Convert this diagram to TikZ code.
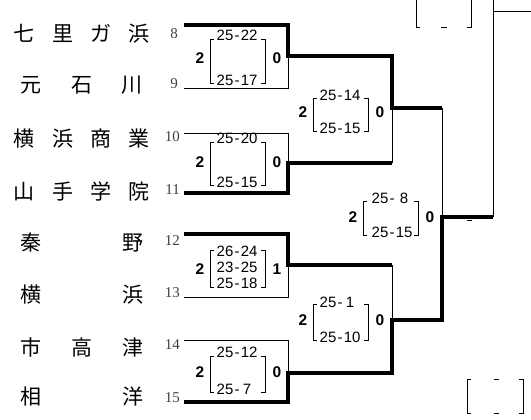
\documentclass[tikz,border=0pt]{standalone}
\usepackage{fontspec}
\setmainfont{Liberation Serif}
\newfontfamily\jpfont{Noto Sans CJK JP}
\newfontfamily\scorefont{Liberation Sans}
\newcommand\spr[2]{\makebox[#1][s]{#2}}
\newcommand\brk[4]{%
  \draw[brkln] (#1+4,#3) -- (#1,#3) -- (#1,#4) -- (#1+4,#4);
  \draw[brkln] (#2-4,#3) -- (#2,#3) -- (#2,#4) -- (#2-4,#4);}
\newcommand\sd[2]{#1\kern1.2pt-\kern1.2pt#2}
\begin{document}
\begin{tikzpicture}[x=1pt,y=-1pt,
  thinln/.style={line width=0.9pt},
  thickln/.style={line width=4pt, line join=miter},
  brkln/.style={line width=0.9pt},
  namelbl/.style={inner sep=0pt, anchor=west, font=\jpfont\fontsize{21}{21}\selectfont},
  numlbl/.style={inner sep=0pt, anchor=east, text=black!75, font=\fontsize{15}{15}\selectfont},
  scoretxt/.style={inner sep=0pt, anchor=west, font=\scorefont\fontsize{15}{15}\selectfont},
  setlbl/.style={inner sep=0pt, font=\scorefont\bfseries\fontsize{15.5}{15.5}\selectfont},
]
\useasboundingbox (0,0) rectangle (531,420);

% names
\node[namelbl] (n8) at (13.5,33.5) {\spr{136pt}{七\hfill 里\hfill ガ\hfill 浜}};
\node[namelbl] (n9) at (20.5,85) {\spr{122pt}{元\hfill 石\hfill 川}};
\node[namelbl] (n10) at (13.5,139) {\spr{136pt}{横\hfill 浜\hfill 商\hfill 業}};
\node[namelbl] (n11) at (13.5,191) {\spr{136pt}{山\hfill 手\hfill 学\hfill 院}};
\node[namelbl] (n12) at (20.5,243) {\spr{123pt}{秦\hfill 野}};
\node[namelbl] (n13) at (20.5,295) {\spr{123pt}{横\hfill 浜}};
\node[namelbl] (n14) at (20.5,347) {\spr{123pt}{市\hfill 高\hfill 津}};
\node[namelbl] (n15) at (20.5,397) {\spr{123pt}{相\hfill 洋}};

% seed numbers
\node[numlbl] (k8) at (178,34) {8};
\node[numlbl] (k9) at (178,84) {9};
\node[numlbl] (k10) at (180,137) {10};
\node[numlbl] (k11) at (180,190) {11};
\node[numlbl] (k12) at (180,241) {12};
\node[numlbl] (k13) at (180,293) {13};
\node[numlbl] (k14) at (180,345) {14};
\node[numlbl] (k15) at (180,398) {15};

% bracket coordinates
\coordinate (p8) at (184,25);
\coordinate (p9) at (184,88);
\coordinate (p10) at (184,133);
\coordinate (p11) at (184,193);
\coordinate (p12) at (184,234);
\coordinate (p13) at (184,297);
\coordinate (p14) at (184,340);
\coordinate (p15) at (184,402);
\coordinate (m1) at (288,56);
\coordinate (m2) at (288,163);
\coordinate (m3) at (288,265);
\coordinate (m4) at (288,373);
\coordinate (q1) at (392,108);
\coordinate (q2) at (392,320);
\coordinate (sf) at (442,217);
\coordinate (fin) at (493,217);
\coordinate (ftop) at (493,-2);
\coordinate (fj) at (493,11);
\coordinate (fout) at (532,11);

% thin lines
\draw[thinln] (p9) -| (m1);
\draw[thinln] (p10) -| (m2);
\draw[thinln] (m2 -| q1) -- (q1);
\draw[thinln] (p13) -| (m3);
\draw[thinln] (m3 -| q2) -- (q2);
\draw[thinln] (p14) -| (m4);
\draw[thinln] (q1 -| sf) -- (sf);
\draw[thinln] (fin) -- (ftop);
\draw[thinln] (fj) -- (fout);

% thick lines
\draw[thickln] (p8) -| (m1) -- (m1 -| q1) -- (q1) -- (q1 -| sf);
\draw[thickln] (p11) -| (m2) -- (m2 -| q1);
\draw[thickln] (p12) -| (m3) -- (m3 -| q2);
\draw[thickln] (p15) -| (m4) -- (m4 -| q2) -- (q2) -- (q2 -| sf) -- (sf) -- (fin);

% match 1
\node[setlbl] (a1) at (200,58) {2};
\node[setlbl] (b1) at (277,58) {0};
\node[scoretxt] (t1a) at (216.5,35) {\sd{25}{22}};
\node[scoretxt] (t1b) at (216.5,80) {\sd{25}{17}};
\brk{210}{265}{39}{83}
% match 2
\node[setlbl] (a2) at (200,162) {2};
\node[setlbl] (b2) at (277,162) {0};
\node[scoretxt] (t2a) at (216.5,138) {\sd{25}{20}};
\node[scoretxt] (t2b) at (216.5,182) {\sd{25}{15}};
\brk{210}{265}{142}{185}
% match 3
\node[setlbl] (a3) at (200,269) {2};
\node[setlbl] (b3) at (277,269) {1};
\node[scoretxt] (t3a) at (216.5,251) {\sd{26}{24}};
\node[scoretxt] (t3b) at (216.5,267) {\sd{23}{25}};
\node[scoretxt] (t3c) at (216.5,283) {\sd{25}{18}};
\brk{210}{265}{250}{287}
% match 4
\node[setlbl] (a4) at (200,372) {2};
\node[setlbl] (b4) at (277,372) {0};
\node[scoretxt] (t4a) at (216.5,352) {\sd{25}{12}};
\node[scoretxt] (t4b) at (216.5,389) {\sd{25}{\kern2pt 7}};
\brk{210}{265}{356}{392}
% round 2 upper
\node[setlbl] (a5) at (303,112) {2};
\node[setlbl] (b5) at (380,112) {0};
\node[scoretxt] (t5a) at (319.5,95) {\sd{25}{14}};
\node[scoretxt] (t5b) at (319.5,128) {\sd{25}{15}};
\brk{313}{368}{98}{131}
% round 2 lower
\node[setlbl] (a6) at (303,320) {2};
\node[setlbl] (b6) at (380,320) {0};
\node[scoretxt] (t6a) at (319.5,302) {\sd{25}{\kern2pt 1}};
\node[scoretxt] (t6b) at (319.5,337) {\sd{25}{10}};
\brk{313}{368}{304}{340}
% semi final
\node[setlbl] (a7) at (353,217) {2};
\node[setlbl] (b7) at (430,217) {0};
\node[scoretxt] (t7a) at (371.5,198) {\sd{25}{\kern4pt 8}};
\node[scoretxt] (t7b) at (371.5,232) {\sd{25}{15}};
\brk{363}{418}{201}{235}

% empty score brackets (right side)
\brk{416}{471}{-3}{27}
\draw[brkln] (441,27) -- (447,27);
\brk{467}{523}{379}{413}
\draw[brkln] (494,379) -- (499,379);
\draw[brkln] (494,413) -- (499,413);
\draw[brkln] (467,220) -- (472,220);
\end{tikzpicture}
\end{document}
